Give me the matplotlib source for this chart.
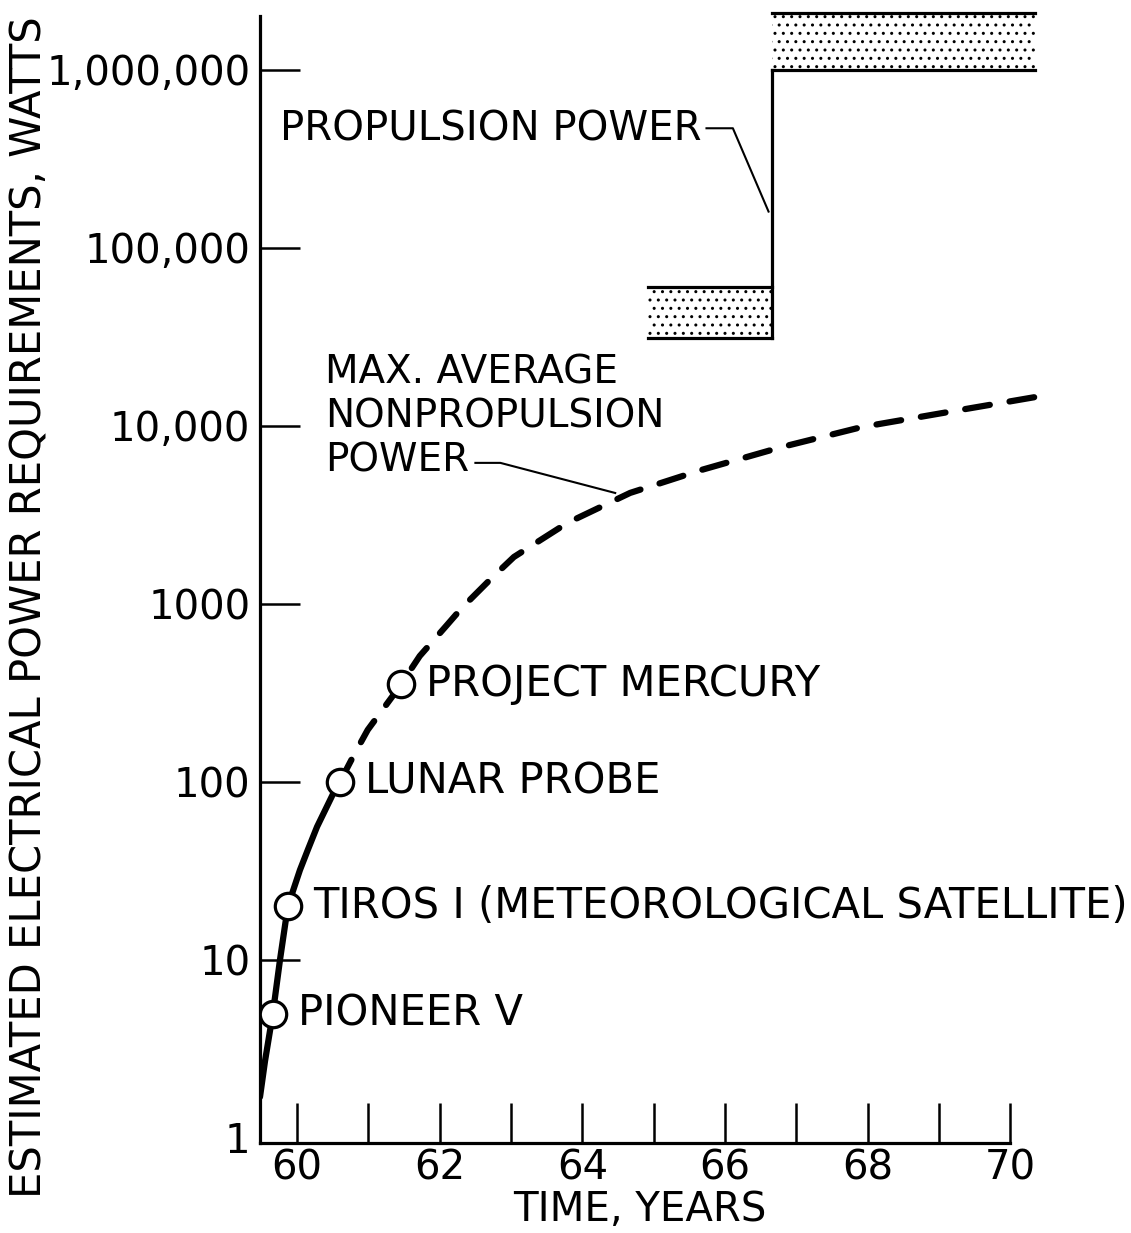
import matplotlib.pyplot as plt
from matplotlib.ticker import FixedLocator, FixedFormatter

plt.rcParams['font.family'] = ['DejaVu Sans']
plt.rcParams['hatch.linewidth'] = 1.0

# nonpropulsion power curve
solid_x = [59.48, 59.55, 59.66, 59.76, 59.87, 60.04, 60.15, 60.28, 60.50, 60.60]
solid_y = [1.7, 2.7, 5.0, 10.0, 20.0, 32.0, 41.5, 56.0, 85.0, 100.0]
dash_x = [60.60, 60.81, 60.99, 61.33, 61.46, 61.72, 62.09, 62.31, 62.73,
          63.04, 63.79, 64.67, 65.67, 66.80, 67.92, 69.30, 70.36]
dash_y = [100.0, 145.0, 196.0, 300.0, 355.0, 510.0, 752.0, 950.0, 1400.0,
          1836.0, 2853.0, 4205.0, 5660.0, 7620.0, 9860.0, 12300.0, 14550.0]

# missions
mission_names = ['PIONEER V', 'TIROS I (METEOROLOGICAL SATELLITE)',
                 'LUNAR PROBE', 'PROJECT MERCURY']
mission_x = [59.66, 59.87, 60.60, 61.46]
mission_y = [5.0, 20.0, 100.0, 355.0]

# propulsion power bands
low_band_x = [64.92, 66.66]
low_band_lo = [31000, 31000]
low_band_hi = [60000, 60000]
high_band_x = [66.66, 70.35]
high_band_lo = [1.0e6, 1.0e6]
high_band_hi = [2.1e6, 2.1e6]

yticks = [1, 10, 100, 1000, 1e4, 1e5, 1e6]
ytick_labels = ['1', '10', '100', '1000', '10,000', '100,000', '1,000,000']
xticks = list(range(60, 71))
xtick_labels = [str(t) if t % 2 == 0 else '' for t in xticks]

W, H = 1131, 1233
fig = plt.figure(figsize=(W / 100, H / 100), dpi=100)
ax = fig.add_axes([260 / W, 1 - 1143 / H, (1046 - 260) / W, (1143 - 10) / H])

ax.set_yscale('log')
ax.set_xlim(59.48, 70.5)
ax.set_ylim(0.937, 2.17e6)

for s in ['top', 'right']:
    ax.spines[s].set_visible(False)
for s in ['left', 'bottom']:
    ax.spines[s].set_linewidth(2.3)
ax.spines['bottom'].set_bounds(59.48, 70)
ax.spines['left'].set_bounds(0.937, 2.0e6)

ax.yaxis.set_major_locator(FixedLocator(yticks))
ax.yaxis.set_major_formatter(FixedFormatter(ytick_labels))
ax.yaxis.set_minor_locator(FixedLocator([]))
ax.xaxis.set_major_locator(FixedLocator(xticks))
ax.xaxis.set_major_formatter(FixedFormatter(xtick_labels))
ax.tick_params(axis='both', direction='in', length=29, width=1.8,
               labelsize=29, colors='black')
ax.tick_params(axis='y', pad=7)
ax.tick_params(axis='x', pad=4)
ax.yaxis.get_major_ticks()[0].tick1line.set_visible(False)

# curve
ax.plot(solid_x, solid_y, color='black', lw=4.5, solid_capstyle='round',
        solid_joinstyle='round', zorder=3)
ax.plot(dash_x, dash_y, color='black', lw=4.5, dashes=(4.0, 3.2),
        dash_capstyle='round', dash_joinstyle='round', zorder=3)
ax.plot(mission_x, mission_y, 'o', ms=19, mfc='white', mec='black', mew=2.3, zorder=4)

for name, mx, my in zip(mission_names, mission_x, mission_y):
    ax.annotate(name, (mx, my), xytext=(18, 0), textcoords='offset points',
                ha='left', va='center', fontsize=30)

# propulsion bands
for bx, lo, hi in [(low_band_x, low_band_lo, low_band_hi),
                   (high_band_x, high_band_lo, high_band_hi)]:
    ax.fill_between(bx, lo, hi, facecolor='white', edgecolor='black',
                    hatch='..', linewidth=0, zorder=2)
    ax.plot(bx, lo, color='black', lw=2.3, zorder=3)
    ax.plot(bx, hi, color='black', lw=2.3, zorder=3)
ax.plot([66.66, 66.66], [low_band_lo[0], high_band_lo[0]], color='black', lw=2.3, zorder=3)

# labels with leaders
ax.text(59.76, 4.6e5, 'PROPULSION POWER', fontsize=29, ha='left', va='center')
ax.plot([65.74, 66.11, 66.61], [4.7e5, 4.7e5, 1.6e5], color='black', lw=1.5)

ax.text(60.39, 1.125e4, 'MAX. AVERAGE\nNONPROPULSION\nPOWER', fontsize=28,
        ha='left', va='center', linespacing=1.2)
ax.plot([62.50, 62.85, 64.46], [6.2e3, 6.2e3, 4.2e3], color='black', lw=1.5)

fig.text(640 / W, 1 - 1210 / H, 'TIME, YEARS', fontsize=29, ha='center', va='center')
fig.text(30 / W, 1 - 607 / H, 'ESTIMATED ELECTRICAL POWER REQUIREMENTS, WATTS',
         fontsize=30, rotation=90, ha='center', va='center')

fig.savefig('out.png', dpi=100)
